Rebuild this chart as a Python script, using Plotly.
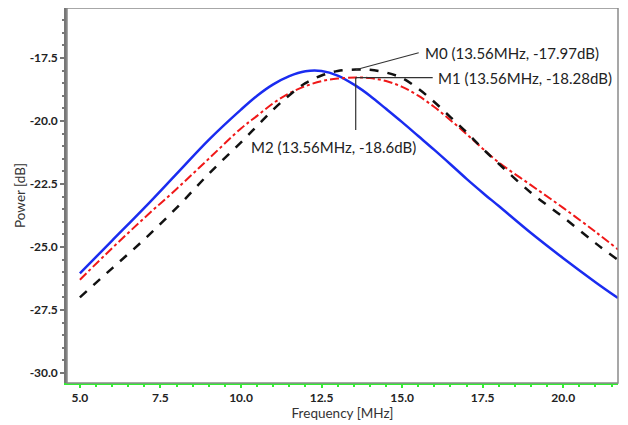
import plotly.graph_objects as go

freq = [5, 6, 7, 8, 9, 10, 10.5, 11, 11.5, 12, 12.5, 13, 13.56, 14, 14.5, 15, 15.5, 16, 16.5, 17, 17.5, 18, 19, 20, 21, 21.7]

blue = [-26.05, -24.75, -23.45, -22.1, -20.75, -19.55, -19.0, -18.55, -18.22, -18.03, -18.02, -18.2, -18.6, -19.0, -19.52, -20.05, -20.6, -21.15, -21.72, -22.3, -22.85, -23.38, -24.45, -25.45, -26.4, -27.03]
red = [-26.3, -25.05, -23.85, -22.7, -21.5, -20.3, -19.8, -19.3, -18.9, -18.62, -18.42, -18.32, -18.28, -18.3, -18.42, -18.65, -19.0, -19.45, -19.97, -20.52, -21.1, -21.65, -22.55, -23.45, -24.4, -25.1]
black = [-27.0, -25.85, -24.7, -23.45, -22.1, -20.85, -20.2, -19.55, -18.98, -18.5, -18.2, -18.02, -17.96, -17.97, -18.08, -18.3, -18.72, -19.25, -19.85, -20.45, -21.1, -21.7, -22.85, -23.82, -24.85, -25.52]

marker_names = ["M0", "M1", "M2"]
marker_freq = [13.56, 13.56, 13.56]
marker_db = [-17.97, -18.28, -18.6]

xticks = [5.0, 7.5, 10.0, 12.5, 15.0, 17.5, 20.0]
yticks = [-30.0, -27.5, -25.0, -22.5, -20.0, -17.5]

FONT = "Lato"

fig = go.Figure()
fig.add_trace(go.Scatter(x=freq, y=blue, mode="lines", line=dict(color="#1a2cf0", width=2.5, shape="spline"), showlegend=False))
fig.add_trace(go.Scatter(x=freq, y=red, mode="lines", line=dict(color="#f01818", width=2, dash="dashdot", shape="spline"), showlegend=False))
fig.add_trace(go.Scatter(x=freq, y=black, mode="lines", line=dict(color="#111111", width=2.5, dash="dash", shape="spline"), showlegend=False))

def label(i):
    return f"{marker_names[i]} ({marker_freq[i]}MHz, {marker_db[i]}dB)"

ann_font = dict(family=FONT, size=15, color="#222222")
annotations = [
    dict(x=marker_freq[0], y=marker_db[0], xref="x", yref="y", text=label(0), showarrow=True,
         arrowhead=0, arrowwidth=1.2, arrowcolor="#333333", ax=63, ay=-17, xanchor="left", yanchor="middle",
         borderpad=5, font=ann_font),
    dict(x=marker_freq[1], y=marker_db[1], xref="x", yref="y", text=label(1), showarrow=True,
         arrowhead=0, arrowwidth=1.2, arrowcolor="#333333", ax=77, ay=0, xanchor="left", yanchor="middle",
         borderpad=4, font=ann_font),
    dict(x=marker_freq[2], y=marker_db[1], xref="x", yref="y", text="", showarrow=True,
         arrowhead=0, arrowwidth=1.2, arrowcolor="#333333", ax=0, ay=54),
    dict(x=marker_freq[2], y=marker_db[1], xref="x", yref="y", text=label(2), showarrow=False,
         xshift=-22, yshift=-69, font=ann_font),
]

fig.update_layout(
    width=620, height=417,
    margin=dict(l=59, r=10, t=0, b=42),
    plot_bgcolor="white", paper_bgcolor="white",
    annotations=annotations,
    shapes=[dict(type="rect", xref="paper", yref="paper", x0=0, x1=1, y0=0, y1=1,
                 line=dict(color="#8a8a8a", width=1.5), layer="above")],
    font=dict(family=FONT, color="#222222"),
)

fig.update_xaxes(
    range=[4.6, 21.7], tickvals=xticks, ticktext=[f"{v:.1f}" for v in xticks],
    showgrid=False, zeroline=False,
    showline=True, linecolor="#33ee33", linewidth=2,
    ticks="outside", tickcolor="#33ee33", ticklen=3, tickwidth=1.5,
    minor=dict(dtick=0.5, tick0=5, ticks="outside", ticklen=2, tickcolor="#33ee33", showgrid=False),
    tickfont=dict(family=FONT, size=12, color="#222222", weight="bold"),
    title=dict(text="Frequency [MHz]", font=dict(family=FONT, size=13.5, color="#333333"), standoff=3),
)
fig.update_yaxes(
    range=[-30.4, -15.52], tickvals=yticks, ticktext=[f"{v:.1f}" for v in yticks],
    showgrid=False, zeroline=False,
    showline=True, linecolor="#777777", linewidth=2.5,
    ticks="outside", tickcolor="#777777", ticklen=4, tickwidth=1.5,
    minor=dict(dtick=0.5, tick0=-30, ticks="outside", ticklen=2, tickcolor="#777777", showgrid=False),
    tickfont=dict(family=FONT, size=12, color="#222222", weight="bold"),
    title=dict(text="Power [dB]", font=dict(family=FONT, size=13.5, color="#333333"), standoff=1),
)

fig.write_html("out.html")
